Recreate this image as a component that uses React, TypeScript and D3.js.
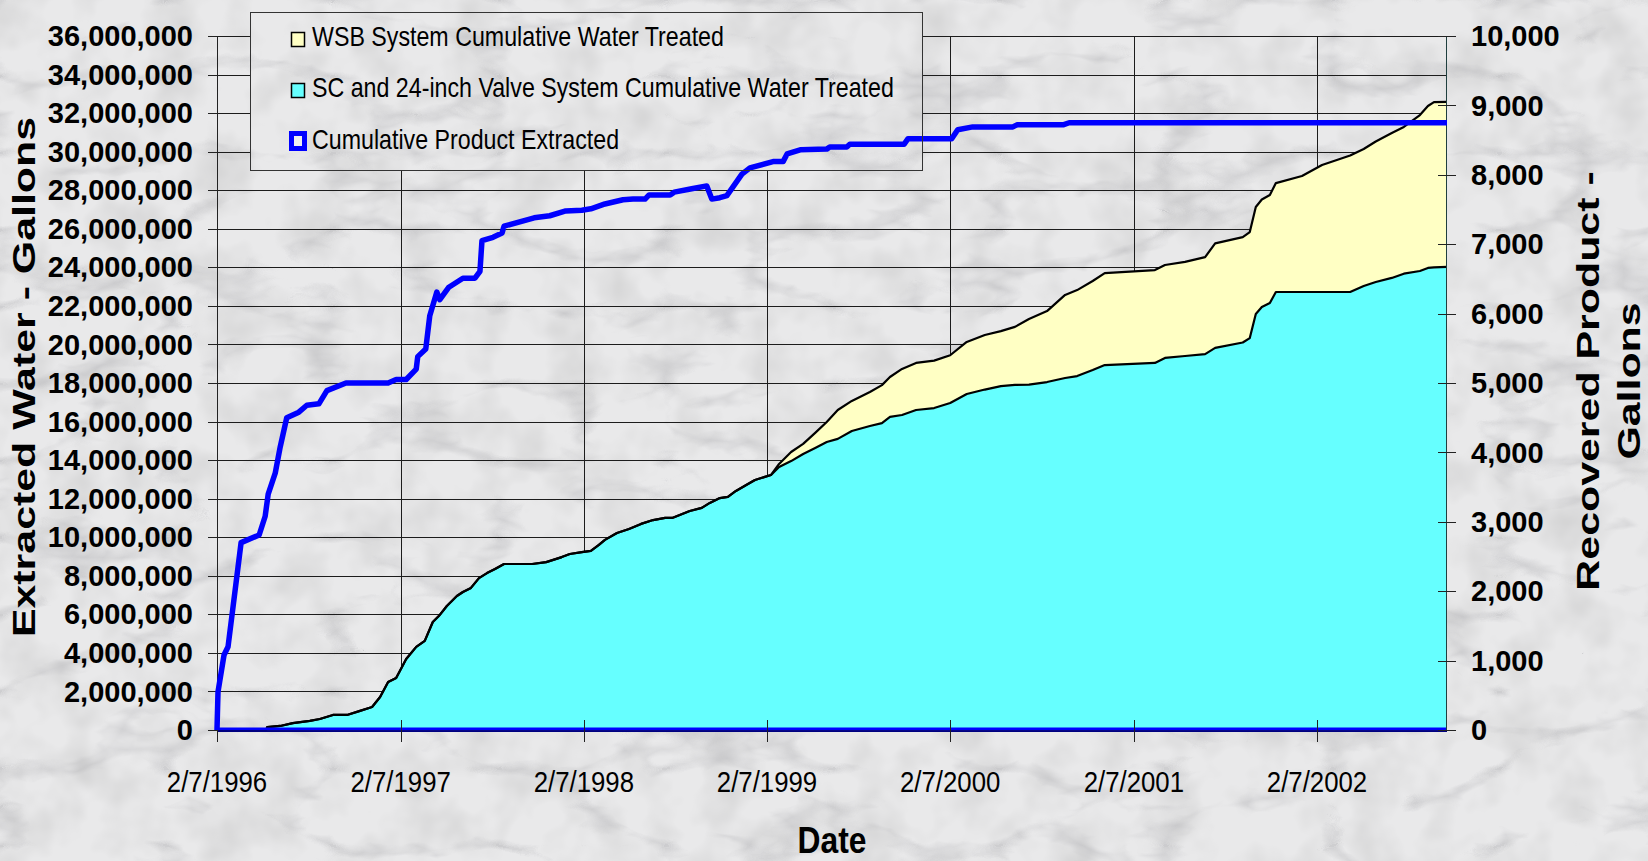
import React from 'react';
import * as d3 from 'd3';

const W = 1648;
const H = 861;

// stacked water series (gallons)
const waterDates = [
  '1996-02-07', '1996-05-15', '1996-05-17', '1996-06-12', '1996-07-07', '1996-08-10', '1996-08-30',
  '1996-09-25', '1996-10-23', '1996-11-18', '1996-12-12', '1996-12-28', '1997-01-13', '1997-01-29',
  '1997-02-18', '1997-03-10', '1997-03-27', '1997-04-12', '1997-04-24', '1997-05-10', '1997-05-30',
  '1997-06-11', '1997-06-27', '1997-07-13', '1997-07-29', '1997-08-14', '1997-09-01', '1997-10-27',
  '1997-11-24', '1997-12-25', '1998-01-10', '1998-02-03', '1998-02-21', '1998-03-09', '1998-03-21',
  '1998-04-14', '1998-05-08', '1998-06-01', '1998-06-25', '1998-07-19', '1998-08-02', '1998-08-22',
  '1998-09-06', '1998-09-30', '1998-10-16', '1998-11-05', '1998-11-21', '1998-12-07', '1998-12-31',
  '1999-01-14', '1999-02-15', '1999-03-03', '1999-03-27', '1999-04-20', '1999-05-14', '1999-06-06',
  '1999-06-28', '1999-07-26', '1999-08-31', '1999-09-24', '1999-10-10', '1999-11-03', '1999-12-01',
  '2000-01-06', '2000-02-07', '2000-03-11', '2000-04-16', '2000-05-18', '2000-06-15', '2000-07-13',
  '2000-08-18', '2000-09-23', '2000-10-17', '2000-11-17', '2000-12-11', '2001-03-21', '2001-04-10',
  '2001-05-20', '2001-06-29', '2001-07-19', '2001-09-12', '2001-09-26', '2001-10-08', '2001-10-20',
  '2001-11-05', '2001-11-17', '2002-01-08', '2002-02-17', '2002-04-14', '2002-05-11', '2002-06-04',
  '2002-07-06', '2002-07-30', '2002-08-31', '2002-09-16', '2002-09-28', '2002-10-24',
];

const scGallons = [
  0, 0, 150000, 210000, 360000, 470000, 570000,
  780000, 780000, 990000, 1190000, 1710000, 2490000, 2700000,
  3680000, 4310000, 4620000, 5600000, 5910000, 6430000, 6950000,
  7160000, 7370000, 7880000, 8140000, 8350000, 8610000, 8610000,
  8710000, 8970000, 9130000, 9230000, 9290000, 9600000, 9860000,
  10220000, 10430000, 10690000, 10890000, 11000000, 11000000, 11200000,
  11360000, 11520000, 11780000, 12030000, 12090000, 12400000, 12760000,
  12970000, 13230000, 13640000, 13950000, 14320000, 14630000, 14940000,
  15100000, 15510000, 15770000, 15920000, 16240000, 16340000, 16600000,
  16700000, 16960000, 17430000, 17660000, 17840000, 17900000, 17920000,
  18050000, 18260000, 18360000, 18670000, 18930000, 19040000, 19300000,
  19400000, 19500000, 19820000, 20100000, 20330000, 21580000, 21940000,
  22150000, 22720000, 22720000, 22720000, 22720000, 23030000, 23240000,
  23450000, 23670000, 23810000, 23970000, 24000000, 24020000,
];

const wsbGallons = [
  0, 0, 0, 0, 0, 0, 0,
  0, 0, 0, 0, 0, 0, 0,
  0, 0, 0, 0, 0, 0, 0,
  0, 0, 0, 0, 0, 0, 0,
  0, 0, 0, 0, 0, 0, 0,
  0, 0, 0, 0, 0, 0, 0,
  0, 0, 0, 0, 0, 0, 0,
  0, 0, 160000, 470000, 520000, 780000, 1040000,
  1500000, 1560000, 1760000, 1970000, 2070000, 2390000, 2440000,
  2460000, 2480000, 2700000, 2830000, 2850000, 3010000, 3400000,
  3680000, 4310000, 4460000, 4620000, 4770000, 4820000, 4820000,
  4880000, 5030000, 5420000, 5470000, 5500000, 5550000, 5580000,
  5600000, 5650000, 6020000, 6590000, 7080000, 7110000, 7290000,
  7520000, 7610000, 8090000, 8400000, 8570000, 8560000,
];

// recovered product, secondary axis (gallons)
const productDates = [
  '1996-02-07', '1996-02-09', '1996-02-21', '1996-02-29', '1996-03-26', '1996-05-01', '1996-05-13',
  '1996-05-19', '1996-06-02', '1996-06-12', '1996-06-25', '1996-07-19', '1996-08-04', '1996-08-28',
  '1996-09-13', '1996-10-21', '1997-01-13', '1997-01-29', '1997-02-18', '1997-03-10', '1997-03-13',
  '1997-03-29', '1997-04-06', '1997-04-20', '1997-04-26', '1997-05-14', '1997-06-11', '1997-07-05',
  '1997-07-15', '1997-07-19', '1997-08-10', '1997-08-28', '1997-09-01', '1997-10-31', '1997-12-01',
  '1998-01-02', '1998-02-03', '1998-02-21', '1998-03-21', '1998-04-26', '1998-05-16', '1998-06-09',
  '1998-06-17', '1998-07-29', '1998-08-06', '1998-09-10', '1998-10-10', '1998-10-20', '1998-11-05',
  '1998-11-19', '1998-12-19', '1999-01-04', '1999-02-19', '1999-03-11', '1999-03-19', '1999-04-14',
  '1999-06-06', '1999-06-12', '1999-07-16', '1999-07-22', '1999-11-07', '1999-11-15', '2000-02-10',
  '2000-02-22', '2000-03-23', '2000-06-11', '2000-06-19', '2000-09-19', '2000-10-01', '2002-10-24',
];

const productGallons = [
  0, 550, 1080, 1200, 2700, 2810, 3080,
  3400, 3700, 4080, 4500, 4580, 4680, 4700,
  4890, 5000, 5000, 5050, 5050, 5200, 5380,
  5490, 5970, 6310, 6200, 6380, 6510, 6510,
  6610, 7050, 7100, 7160, 7260, 7380, 7410,
  7480, 7490, 7510, 7580, 7640, 7650, 7650,
  7710, 7710, 7750, 7800, 7840, 7650, 7670,
  7700, 8010, 8100, 8190, 8190, 8300, 8360,
  8370, 8400, 8400, 8440, 8440, 8520, 8520,
  8650, 8690, 8690, 8720, 8720, 8750, 8750,
];

const dateTicks = ['1996-02-07', '1997-02-07', '1998-02-07', '1999-02-07', '2000-02-07', '2001-02-07', '2002-02-07'];
const waterTicks = d3.range(0, 36000001, 2000000);
const productTicks = d3.range(0, 10001, 1000);

const legendLabels = [
  'WSB System Cumulative Water Treated',
  'SC and 24-inch Valve System Cumulative Water Treated',
  'Cumulative Product Extracted',
];

const FONT = "'Liberation Sans', Arial, sans-serif";
const CYAN = '#66ffff';
const YELLOW = '#ffffc4';
const BLUE = '#0000ff';
const BG = '#e9e9ea';

const parse = d3.timeParse('%Y-%m-%d');
const fmtDate = d3.timeFormat('%-m/%-d/%Y');
const fmtNum = d3.format(',');

function Txt({ x, y, sx = 1, rot = 0, children, ...rest }: any) {
  return (
    <g transform={`translate(${x},${y}) rotate(${rot}) scale(${sx},1)`}>
      <text x={0} y={0} fontFamily={FONT} {...rest}>{children}</text>
    </g>
  );
}

export default function App() {
  const left = 217, right = 1447, top = 36, bottom = 730;

  const x = d3.scaleTime()
    .domain([parse('1996-02-07')!, parse('2002-10-24')!])
    .range([left, right]);
  const yL = d3.scaleLinear().domain([0, 36000000]).range([bottom, top]);
  const yR = d3.scaleLinear().domain([0, 10000]).range([bottom, top]);

  const rows = waterDates.map((d, i) => ({ date: parse(d)!, sc: scGallons[i], wsb: wsbGallons[i] }));
  const layers = d3.stack<any>().keys(['sc', 'wsb'])(rows);
  const area = d3.area<any>()
    .x(d => x(d.data.date))
    .y0(d => yL(d[0]))
    .y1(d => yL(d[1]));
  const edge = d3.line<any>()
    .x(d => x(d.data.date))
    .y(d => yL(d[1]));

  const prod = productDates.map((d, i) => ({ date: parse(d)!, v: productGallons[i] }));
  const prodLine = d3.line<any>().x(d => x(d.date)).y(d => yR(d.v));

  const legend = { x: 250.5, y: 12.5, w: 672, h: 158 };

  return (
    <svg width={W} height={H} style={{ position: 'absolute', left: 0, top: 0, display: 'block' }}>
      <defs>
        <filter id="marble" filterUnits="userSpaceOnUse" x="0" y="0" width={W} height={H}>
          <feTurbulence type="turbulence" baseFrequency="0.006 0.013" numOctaves="4" seed="11" />
          <feColorMatrix type="matrix" values="0 0 0 0 0.42  0 0 0 0 0.42  0 0 0 0 0.44  -1.8 0 0 0 0.42" />
        </filter>
        <filter id="mottle" filterUnits="userSpaceOnUse" x="0" y="0" width={W} height={H}>
          <feTurbulence type="fractalNoise" baseFrequency="0.02" numOctaves="3" seed="4" />
          <feColorMatrix type="matrix" values="0 0 0 0 0.5  0 0 0 0 0.5  0 0 0 0 0.5  0.9 0 0 0 -0.38" />
        </filter>
        <clipPath id="legendClip">
          <rect x={legend.x} y={legend.y} width={legend.w} height={legend.h} />
        </clipPath>
      </defs>

      {/* marble-ish backdrop */}
      <rect width={W} height={H} fill={BG} />
      <rect width={W} height={H} filter="url(#mottle)" />
      <rect width={W} height={H} filter="url(#marble)" />

      {/* gridlines */}
      <g stroke="#1c1c1c" strokeWidth={1}>
        {waterTicks.map(t => (
          <line key={`h${t}`} x1={left} x2={right} y1={Math.round(yL(t)) + 0.5} y2={Math.round(yL(t)) + 0.5} />
        ))}
        {dateTicks.map(t => (
          <line key={`v${t}`} x1={Math.round(x(parse(t)!)) + 0.5} x2={Math.round(x(parse(t)!)) + 0.5} y1={top} y2={bottom} />
        ))}
      </g>

      {/* legend backdrop hides the grid */}
      <g clipPath="url(#legendClip)">
        <rect width={W} height={H} fill={BG} />
        <rect width={W} height={H} filter="url(#mottle)" />
        <rect width={W} height={H} filter="url(#marble)" />
      </g>

      {/* stacked areas */}
      <path d={area(layers[0]) || ''} fill={CYAN} />
      <path d={area(layers[1]) || ''} fill={YELLOW} />
      <path d={edge(layers[0]) || ''} fill="none" stroke="#000" strokeWidth={2.2} strokeLinejoin="round" />
      <path d={edge(layers[1]) || ''} fill="none" stroke="#000" strokeWidth={2.2} strokeLinejoin="round" />

      {/* bottom band */}
      <rect x={left} y={bottom - 2.5} width={right - left} height={3} fill={BLUE} />
      <rect x={left} y={bottom + 0.5} width={right - left} height={1.5} fill="#000080" />

      {/* axes */}
      <g stroke="#222" strokeWidth={1}>
        <line x1={left + 0.5} x2={left + 0.5} y1={top} y2={bottom + 12} />
        {waterTicks.map(t => (
          <line key={`lt${t}`} x1={left - 9} x2={left} y1={Math.round(yL(t)) + 0.5} y2={Math.round(yL(t)) + 0.5} />
        ))}
        <line x1={right - 0.5} x2={right - 0.5} y1={top} y2={bottom} stroke="#1f3f3f" />
        {productTicks.map(t => (
          <line key={`rt${t}`} x1={right - 9} x2={right + 9} y1={Math.round(yR(t)) + 0.5} y2={Math.round(yR(t)) + 0.5} />
        ))}
        {dateTicks.map(t => (
          <line key={`bt${t}`} x1={Math.round(x(parse(t)!)) + 0.5} x2={Math.round(x(parse(t)!)) + 0.5} y1={bottom - 10} y2={bottom + 12} />
        ))}
      </g>

      {/* product line */}
      <path d={prodLine(prod) || ''} fill="none" stroke={BLUE} strokeWidth={5.5} strokeLinejoin="round" />

      {/* legend */}
      <rect x={legend.x} y={legend.y} width={legend.w} height={legend.h} fill="none" stroke="#333" strokeWidth={1} />
      <rect x={291.5} y={32.5} width={13} height={14} fill={YELLOW} stroke="#000" strokeWidth={1.5} />
      <rect x={291.5} y={83.5} width={13} height={14} fill={CYAN} stroke="#000" strokeWidth={1.5} />
      <rect x={291.5} y={133.5} width={13} height={15} fill="#eee" stroke={BLUE} strokeWidth={5} />
      {legendLabels.map((l, i) => (
        <Txt key={l} x={312} y={[46, 97, 149][i]} sx={0.86} fontSize={27} fill="#000">{l}</Txt>
      ))}

      {/* tick labels */}
      {waterTicks.map(t => (
        <text key={`ll${t}`} x={193} y={yL(t)} dy="0.35em" textAnchor="end" fontFamily={FONT}
          fontWeight={700} fontSize={29} fill="#000">{fmtNum(t)}</text>
      ))}
      {productTicks.map(t => (
        <text key={`rl${t}`} x={1471} y={yR(t)} dy="0.35em" textAnchor="start" fontFamily={FONT}
          fontWeight={700} fontSize={29} fill="#000">{fmtNum(t)}</text>
      ))}
      {dateTicks.map(t => (
        <Txt key={`bl${t}`} x={x(parse(t)!)} y={792} sx={0.86} fontSize={30} textAnchor="middle" fill="#000">
          {fmtDate(parse(t)!)}
        </Txt>
      ))}

      {/* axis titles */}
      <Txt x={832} y={853} sx={0.86} fontSize={37} fontWeight={700} textAnchor="middle">Date</Txt>
      <Txt x={35} y={377} rot={-90} sx={1.34} fontSize={32} fontWeight={700} textAnchor="middle">
        Extracted Water - Gallons
      </Txt>
      <Txt x={1599} y={381} rot={-90} sx={1.34} fontSize={32} fontWeight={700} textAnchor="middle">
        Recovered Product -
      </Txt>
      <Txt x={1640} y={381} rot={-90} sx={1.34} fontSize={32} fontWeight={700} textAnchor="middle">
        Gallons
      </Txt>
    </svg>
  );
}
